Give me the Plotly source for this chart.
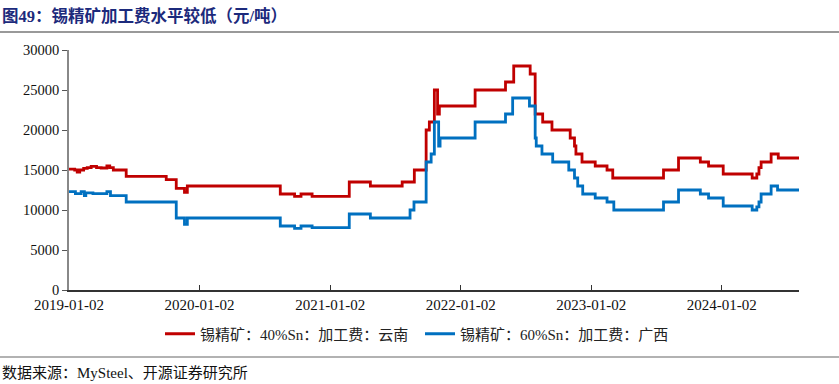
import plotly.graph_objects as go

# ---- data (change points of step series) ----
red_dates = [
    "2019-01-02", "2019-01-18", "2019-01-25", "2019-02-01", "2019-02-12", "2019-02-22",
    "2019-03-05", "2019-03-20", "2019-04-02", "2019-04-18", "2019-04-26", "2019-05-06",
    "2019-06-11", "2019-10-01", "2019-10-29", "2019-11-21", "2019-11-29",
    "2020-08-15", "2020-09-24", "2020-10-12", "2020-11-12",
    "2021-02-24", "2021-04-24", "2021-07-22", "2021-08-25", "2021-09-27", "2021-10-06",
    "2021-10-20", "2021-10-29", "2021-11-03",
    "2022-02-11", "2022-05-07", "2022-05-30", "2022-07-15", "2022-07-29", "2022-08-19",
    "2022-09-14", "2022-11-04", "2022-11-16", "2022-11-20", "2022-12-07",
    "2023-01-13", "2023-02-15", "2023-03-03", "2023-07-23", "2023-09-03", "2023-11-03",
    "2023-11-26", "2024-01-06", "2024-03-27", "2024-04-09", "2024-04-15", "2024-04-21",
    "2024-05-19", "2024-06-08", "2024-08-05",
]
red_values = [
    15100, 15000, 14750, 15000, 15200, 15300,
    15450, 15300, 15250, 15500, 15300, 15000,
    14200, 13800, 12700, 12200, 13000,
    12000, 11700, 12000, 11700,
    13500, 13000, 13500, 15000, 20000, 21000,
    25000, 22000, 23000,
    25000, 26000, 28000, 27000, 22000, 21000,
    20000, 19000, 18000, 17000, 16000,
    15500, 15000, 14000, 15000, 16500, 16000,
    15500, 14500, 14000, 14500, 15300, 16000,
    17000, 16500, 16500,
]

blue_dates = [
    "2019-01-02", "2019-01-20", "2019-02-05", "2019-02-14", "2019-02-18", "2019-03-10",
    "2019-04-18", "2019-04-28", "2019-06-11", "2019-10-29", "2019-11-21", "2019-11-29",
    "2020-08-15", "2020-09-24", "2020-10-12", "2020-11-12",
    "2021-02-24", "2021-04-24", "2021-08-13", "2021-08-24", "2021-09-27", "2021-10-11",
    "2021-10-20", "2021-11-01", "2021-11-05",
    "2022-02-11", "2022-05-07", "2022-05-27", "2022-07-13", "2022-07-29", "2022-08-01",
    "2022-08-17", "2022-09-16", "2022-10-31", "2022-11-16", "2022-11-25", "2022-12-09",
    "2023-01-13", "2023-02-15", "2023-03-06", "2023-07-23", "2023-09-03", "2023-11-03",
    "2023-11-26", "2024-01-06", "2024-03-27", "2024-04-09", "2024-04-15", "2024-04-21",
    "2024-05-19", "2024-06-06", "2024-08-05",
]
blue_values = [
    12300, 12050, 12300, 11800, 12150, 12050,
    12300, 11800, 11000, 9000, 8200, 9000,
    8000, 7700, 8000, 7800,
    9500, 9000, 10000, 11000, 16000, 17000,
    21000, 18000, 19000,
    21000, 22000, 24000, 23000, 19000, 18000,
    17000, 16000, 15000, 14000, 13000, 12000,
    11500, 11000, 10000, 11000, 12500, 12000,
    11500, 10500, 10000, 10400, 11000, 12000,
    13000, 12500, 12500,
]

red_name = "锡精矿：40%Sn：加工费：云南"
blue_name = "锡精矿：60%Sn：加工费：广西"
title_text = "图49：锡精矿加工费水平较低（元/吨）"
source_text = "数据来源：MySteel、开源证券研究所"
x_tick_vals = ["2019-01-02", "2020-01-02", "2021-01-02", "2022-01-02", "2023-01-02", "2024-01-02"]
y_tick_vals = [0, 5000, 10000, 15000, 20000, 25000, 30000]
y_tick_text = [str(v) for v in y_tick_vals]

SERIF = "Liberation Serif, Noto Sans CJK SC, serif"

fig = go.Figure()
fig.add_trace(go.Scatter(x=red_dates, y=red_values, name=red_name, mode="lines",
                         line=dict(color="#C00000", width=2.8, shape="hv")))
fig.add_trace(go.Scatter(x=blue_dates, y=blue_values, name=blue_name, mode="lines",
                         line=dict(color="#0070C0", width=2.8, shape="hv")))

L, R, T, B = 69, 40, 50, 94
W, H = 839, 384
pw, ph = W - L - R, H - T - B

def px_x(x):
    return (x - L) / pw

def px_y(y):
    return (H - B - y) / ph

fig.update_layout(
    width=W, height=H,
    margin=dict(l=L, r=R, t=T, b=B, autoexpand=False),
    paper_bgcolor="white", plot_bgcolor="white",
    showlegend=True,
    legend=dict(orientation="h", x=px_x(160), xanchor="left", y=px_y(334), yanchor="middle",
                font=dict(family=SERIF, size=15, color="#222"),
                entrywidth=215, entrywidthmode="pixels", traceorder="normal"),
    xaxis=dict(type="date", range=["2019-01-02", "2024-08-05"],
               tickvals=x_tick_vals, ticktext=x_tick_vals,
               showgrid=False, zeroline=False,
               showline=True, linecolor="#333", linewidth=1.5,
               ticks="inside", ticklen=5, tickcolor="#333",
               tickfont=dict(family=SERIF, size=15, color="#111")),
    yaxis=dict(range=[0, 30000], tickvals=y_tick_vals, ticktext=y_tick_text,
               showgrid=False, zeroline=False,
               showline=True, linecolor="#888", linewidth=1.5,
               ticks="outside", ticklen=5, tickcolor="#555",
               tickfont=dict(family=SERIF, size=14.5, color="#111")),
    shapes=[
        dict(type="line", xref="paper", yref="paper", x0=px_x(0), x1=px_x(W),
             y0=px_y(32), y1=px_y(32), line=dict(color="#999", width=2)),
        dict(type="line", xref="paper", yref="paper", x0=px_x(0), x1=px_x(W),
             y0=px_y(357), y1=px_y(357), line=dict(color="#999", width=1.5)),
    ],
    annotations=[
        dict(text="<b>" + title_text + "</b>", xref="paper", yref="paper",
             x=px_x(0), y=px_y(16), xanchor="left", yanchor="middle", showarrow=False,
             font=dict(family=SERIF, size=16.5, color="#1C2A7C")),
        dict(text=source_text, xref="paper", yref="paper",
             x=px_x(0), y=px_y(373), xanchor="left", yanchor="middle", showarrow=False,
             font=dict(family=SERIF, size=15, color="#111")),
    ],
)

fig.write_html("out.html", config={"displayModeBar": False},
               post_script="document.body.style.margin='0';document.body.style.overflow='hidden';")
